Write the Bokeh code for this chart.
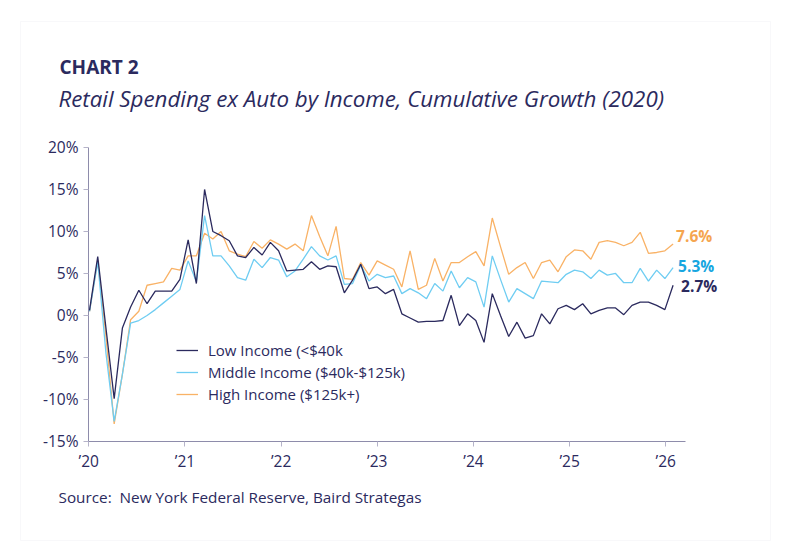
import pandas as pd
from bokeh.plotting import figure
from bokeh.models import ColumnDataSource, FixedTicker, Label, Legend, LegendItem, BoxAnnotation
from bokeh.embed import file_html
from bokeh.resources import INLINE

# ---------------- data ----------------
months = pd.date_range("2020-01-01", periods=72, freq="MS").strftime("%Y-%m").tolist()

low = [0.6, 7.0, -1.5, -9.9, -1.5, 1.0, 3.0, 1.4, 2.9, 2.9, 2.9, 4.3,
       9.0, 3.8, 15.0, 10.0, 9.5, 8.9, 7.1, 6.9, 8.1, 7.2, 8.7, 7.7,
       5.3, 5.4, 5.5, 6.4, 5.5, 5.9, 5.8, 2.7, 4.2, 6.1, 3.2, 3.4,
       2.6, 3.1, 0.2, -0.3, -0.8, -0.7, -0.7, -0.6, 2.4, -1.2, 0.2, -0.6,
       -3.2, 2.6, 0.0, -2.5, -0.8, -2.7, -2.4, 0.2, -1.0, 0.8, 1.2, 0.7,
       1.4, 0.2, 0.6, 0.9, 0.9, 0.1, 1.2, 1.6, 1.6, 1.2, 0.7, 3.6]

middle = [0.5, 6.4, -4.5, -12.6, -7.0, -0.9, -0.6, 0.0, 0.7, 1.5, 2.3, 3.1,
          6.5, 4.0, 11.9, 7.1, 7.1, 5.9, 4.5, 4.2, 6.7, 5.7, 6.9, 6.6,
          4.6, 5.3, 6.7, 8.2, 7.1, 6.6, 7.1, 3.7, 3.8, 6.0, 4.1, 4.9,
          4.5, 4.7, 2.6, 3.2, 2.7, 2.0, 3.8, 2.9, 5.3, 3.3, 4.5, 4.0,
          1.0, 7.1, 4.3, 1.6, 3.2, 2.6, 2.0, 4.1, 4.0, 3.9, 4.9, 5.4,
          5.2, 4.4, 5.4, 4.8, 5.0, 3.9, 3.9, 5.6, 4.1, 5.4, 4.4, 5.7]

high = [0.5, 6.6, -2.5, -12.9, -7.0, -0.5, 0.5, 3.6, 3.8, 4.0, 5.6, 5.4,
        7.1, 7.1, 9.8, 9.1, 10.0, 7.7, 7.3, 7.0, 8.8, 8.0, 9.0, 8.5,
        7.9, 8.5, 7.7, 11.9, 9.4, 7.1, 10.6, 4.4, 4.3, 6.3, 4.8, 6.5,
        6.0, 5.5, 3.4, 7.7, 3.1, 3.6, 6.8, 4.1, 6.3, 6.3, 7.0, 7.6,
        5.9, 11.6, 8.2, 4.9, 5.7, 6.3, 4.4, 6.3, 6.6, 5.2, 7.0, 7.8,
        7.7, 6.7, 8.7, 8.9, 8.7, 8.3, 8.7, 9.9, 7.4, 7.5, 7.7, 8.5]

series_names = ["Low Income (<$40k", "Middle Income ($40k-$125k)", "High Income ($125k+)"]
end_labels = ["2.7%", "5.3%", "7.6%"]
year_labels = ["\u201920", "\u201921", "\u201922", "\u201923", "\u201924", "\u201925", "\u201926"]
y_ticks = [-15, -10, -5, 0, 5, 10, 15, 20]

# ---------------- style ----------------
NAVY = "#2b2a5e"
BLUE = "#6fcdf2"
ORANGE = "#f9b266"
BLUE_TXT = "#17a6e0"
ORANGE_TXT = "#f5a54f"
AXIS = "#8e8cab"
FONT = "Open Sans"

W, H = 782, 551
idx = list(range(len(months)))
src = ColumnDataSource(dict(x=idx, month=months, low=low, middle=middle, high=high))

# axis extents (data units) of the drawn axes
X_START, X_END = -0.12, 72.5
Y_START, Y_END = y_ticks[0], y_ticks[-1]

# the plot frame fills the whole canvas; axes are drawn at fixed locations inside it
p = figure(width=W, height=H, x_range=(-10.83, 84.31), y_range=(-28.1, 37.5),
           output_backend="svg", toolbar_location=None,
           min_border_left=0, min_border_right=0, min_border_top=0, min_border_bottom=0)
p.background_fill_color = "white"
p.border_fill_color = "white"
p.outline_line_color = None
p.xgrid.visible = False
p.ygrid.visible = False

# year ticks: one year spans ~11.7 data points on this chart's category axis
year_ticks = [-0.09 + 11.7 * k for k in range(len(year_labels))]
p.xaxis.ticker = FixedTicker(ticks=year_ticks)
p.xaxis.major_label_overrides = {t: lab for t, lab in zip(year_ticks, year_labels)}
p.xaxis.fixed_location = Y_START
p.xaxis.bounds = (X_START, X_END)
p.yaxis.ticker = FixedTicker(ticks=y_ticks)
p.yaxis.major_label_overrides = {v: f"{v}%" for v in y_ticks}
p.yaxis.fixed_location = X_START
p.yaxis.bounds = (Y_START, Y_END)

for ax in (p.xaxis, p.yaxis):
    ax.axis_line_color = AXIS
    ax.axis_line_width = 1
    ax.major_tick_line_color = "#b5b3c9"
    ax.major_tick_in = 0
    ax.major_tick_out = 5
    ax.minor_tick_line_color = None
    ax.major_label_text_font = FONT
    ax.major_label_text_font_size = "15.5px"
    ax.major_label_text_color = NAVY
p.yaxis.major_label_standoff = 5
p.xaxis.major_label_standoff = 4

r_high = p.line("x", "high", source=src, line_color=ORANGE, line_width=1.3)
r_mid = p.line("x", "middle", source=src, line_color=BLUE, line_width=1.3)
r_low = p.line("x", "low", source=src, line_color=NAVY, line_width=1.3)

legend = Legend(items=[LegendItem(label=series_names[0], renderers=[r_low]),
                       LegendItem(label=series_names[1], renderers=[r_mid]),
                       LegendItem(label=series_names[2], renderers=[r_high])],
                location=(176, 147))
legend.border_line_color = None
legend.background_fill_alpha = 0
legend.label_text_font = FONT
legend.label_text_font_size = "15px"
legend.label_text_color = NAVY
legend.glyph_width = 22
legend.glyph_height = 20
legend.label_height = 20
legend.spacing = 2
legend.padding = 0
legend.margin = 0
legend.label_standoff = 10
p.add_layout(legend)

# end-of-line value labels
last = len(months) - 1
for val, txt, col, dx, dy in [(high[last], end_labels[2], ORANGE_TXT, 3, 8),
                              (middle[last], end_labels[1], BLUE_TXT, 5, 2),
                              (low[last], end_labels[0], NAVY, 8, -1)]:
    p.add_layout(Label(x=last, y=val, text=txt, x_offset=dx, y_offset=dy,
                       text_font=FONT, text_font_style="bold", text_font_size="15.5px",
                       text_color=col, text_baseline="middle", text_align="left"))

# titles and source (screen units, measured from the canvas bottom-left)
p.add_layout(Label(x=59, y=H - 66, x_units="screen", y_units="screen", text="CHART 2",
                   text_font=FONT, text_font_style="bold", text_font_size="19px",
                   text_color=NAVY, text_baseline="alphabetic"))
p.add_layout(Label(x=58, y=H - 98, x_units="screen", y_units="screen",
                   text="Retail Spending ex Auto by Income, Cumulative Growth (2020)",
                   text_font=FONT, text_font_style="italic", text_font_size="22.3px",
                   text_color=NAVY, text_baseline="alphabetic"))
p.add_layout(Label(x=58, y=H - 496, x_units="screen", y_units="screen",
                   text="Source:\u00a0 New York Federal Reserve, Baird Strategas",
                   text_font=FONT, text_font_size="15.3px",
                   text_color=NAVY, text_baseline="alphabetic"))

# faint card border
p.add_layout(BoxAnnotation(left=20, right=770, top=H - 21, bottom=H - 540,
                           left_units="screen", right_units="screen",
                           top_units="screen", bottom_units="screen",
                           fill_alpha=0, line_color="#e9e9ef", line_width=1))

open("out.html", "w").write(file_html(p, INLINE))
